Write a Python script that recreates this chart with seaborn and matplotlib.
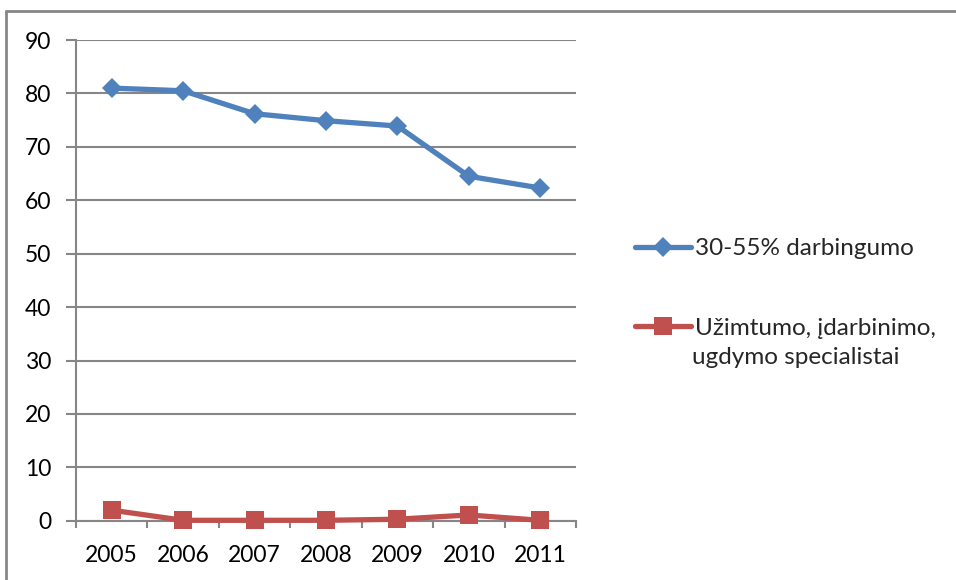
import pandas as pd
import seaborn as sns
import matplotlib.pyplot as plt
from matplotlib.lines import Line2D

# Data
years = ["2005", "2006", "2007", "2008", "2009", "2010", "2011"]
darbingumo = [81.0, 80.5, 76.2, 74.9, 73.9, 64.5, 62.3]
specialistai = [2.0, 0.1, 0.1, 0.1, 0.3, 1.1, 0.1]
y_ticks = [0, 10, 20, 30, 40, 50, 60, 70, 80, 90]

label_blue = "30-55% darbingumo"
label_red_1 = "Užimtumo, įdarbinimo,"
label_red_2 = "ugdymo specialistai"

blue = "#4F81BD"
red = "#C0504D"
grey = "#868686"

df = pd.DataFrame({"year": years * 2,
                   "value": darbingumo + specialistai,
                   "series": [label_blue] * 7 + [label_red_1] * 7})

sns.set_style("white")
plt.rcParams["font.family"] = ["Lato", "DejaVu Sans"]

fig = plt.figure(figsize=(9.56, 5.8), dpi=100)
ax = fig.add_axes([0.0795, 0.102, 0.523, 0.829])

sns.lineplot(data=df, x="year", y="value", hue="series", style="series",
             palette={label_blue: blue, label_red_1: red},
             markers={label_blue: "D", label_red_1: "s"}, dashes=False,
             linewidth=3.8, markeredgewidth=0, legend=False, ax=ax)
for line, ms in zip(ax.get_lines(), [10, 13]):
    line.set_markersize(ms)
    line.set_clip_on(False)
    line.set_zorder(5)

ax.set_xlim(-0.5, 6.5)
ax.set_ylim(0, 90)
ax.set_yticks(y_ticks)
ax.set_xticks(range(len(years)))
ax.set_xticklabels(years)
ax.set_xticks([i - 0.5 for i in range(len(years) + 1)], minor=True)
ax.set_xlabel("")
ax.set_ylabel("")

ax.grid(axis="y", color=grey, linewidth=1.5)
ax.set_axisbelow(True)
for side in ["top", "right"]:
    ax.spines[side].set_visible(False)
for side in ["left", "bottom"]:
    ax.spines[side].set_color(grey)
    ax.spines[side].set_linewidth(1.5)

ax.tick_params(axis="y", which="major", left=True, length=7, width=1.5,
               color=grey, pad=11, labelsize=16.5, labelcolor="black")
ax.tick_params(axis="x", which="major", bottom=False, pad=14,
               labelsize=16.5, labelcolor="black")
ax.tick_params(axis="x", which="minor", bottom=True, length=5, width=1.5,
               color=grey)

handles = [Line2D([], [], color=blue, lw=3.8, marker="D", ms=10, mew=0),
           Line2D([], [], color=red, lw=3.8, marker="s", ms=13, mew=0)]
fig.legend(handles, [label_blue, label_red_1], loc="upper left",
           bbox_to_anchor=(0.652, 0.61), frameon=False, fontsize=17.5,
           handlelength=2.3, handletextpad=0.15, labelspacing=2.4,
           borderpad=0)
fig.text(0.7235, 0.384, label_red_2, fontsize=17.5, va="center", ha="left")

# outer chart frame (top and left edges)
fig.add_artist(Line2D([0.0063, 1.0], [0.981, 0.981], color=grey, lw=2,
                      transform=fig.transFigure))
fig.add_artist(Line2D([0.0063, 0.0063], [0.0, 0.981], color=grey, lw=2,
                      transform=fig.transFigure))

fig.savefig("out.png", dpi=100)
